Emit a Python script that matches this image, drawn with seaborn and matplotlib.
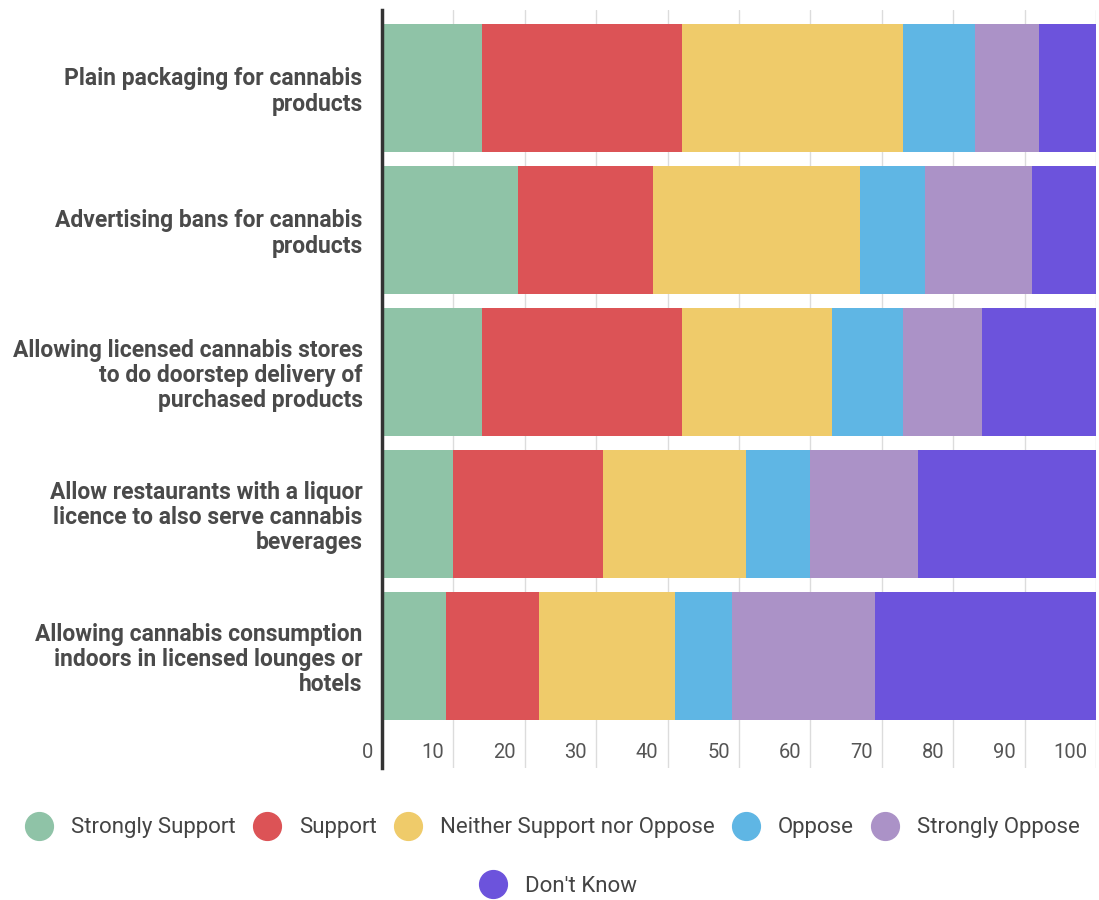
import matplotlib
matplotlib.use("Agg")
import matplotlib.pyplot as plt
import matplotlib.transforms as mtransforms
from matplotlib.lines import Line2D
import numpy as np
import pandas as pd
import seaborn as sns

# Survey questions (top to bottom)
questions = [
    "Plain packaging for cannabis\nproducts",
    "Advertising bans for cannabis\nproducts",
    "Allowing licensed cannabis stores\nto do doorstep delivery of\npurchased products",
    "Allow restaurants with a liquor\nlicence to also serve cannabis\nbeverages",
    "Allowing cannabis consumption\nindoors in licensed lounges or\nhotels",
]

responses = ["Strongly Support", "Support", "Neither Support nor Oppose",
             "Oppose", "Strongly Oppose", "Don't Know"]

strongly_support = [14, 19, 14, 10, 9]
support = [28, 19, 28, 21, 13]
neither = [31, 29, 21, 20, 19]
oppose = [10, 9, 10, 9, 8]
strongly_oppose = [9, 15, 11, 15, 20]
dont_know = [8, 9, 16, 25, 31]

x_ticks = [0, 10, 20, 30, 40, 50, 60, 70, 80, 90, 100]

colors = ["#8fc3a7", "#dc5356", "#efcb6a", "#5fb6e4", "#ab92c7", "#6c53dc"]

sns.set_theme(style="white")
plt.rcParams["font.family"] = ["Roboto", "DejaVu Sans"]

fig = plt.figure(figsize=(10.99, 9.0), dpi=100)
ax = fig.add_axes([0.3476, 1 - 768 / 900, 0.9973 - 0.3476, (768 - 10) / 900])

series = [strongly_support, support, neither, oppose, strongly_oppose, dont_know]
df = pd.DataFrame({name: vals for name, vals in zip(responses, series)}, index=questions)
cum = df.cumsum(axis=1)

# Stacked bars: draw cumulative totals from the outermost segment inwards
for name, color in reversed(list(zip(responses, colors))):
    sns.barplot(x=cum[name].values, y=questions, orient="h", color=color,
                width=0.9, saturation=1, ax=ax, zorder=2, linewidth=0)

ax.set_xlim(0, 100)
ax.set_ylim(4.789, -0.549)
ax.set_xticks(x_ticks)
ax.set_xticklabels([])
ax.tick_params(axis="x", length=0)
ax.xaxis.grid(True, color="#dcdcdc", linewidth=1, zorder=0)
ax.set_axisbelow(True)
ax.tick_params(axis="y", length=0, pad=14, labelsize=16.5, labelcolor="#4a4a4a")
for lab in ax.get_yticklabels():
    lab.set_fontweight("bold")
    lab.set_linespacing(1.12)
ax.set_xlabel("")
ax.set_ylabel("")
for side in ["top", "right", "bottom"]:
    ax.spines[side].set_visible(False)
ax.spines["left"].set_color("#333333")
ax.spines["left"].set_linewidth(2.5)
ax.spines["left"].set_zorder(5)

# Value labels sit just left of each gridline, inside the plot area
offset = mtransforms.ScaledTranslation(-9 / 100, 0, fig.dpi_scale_trans)
trans = mtransforms.blended_transform_factory(ax.transData, ax.transAxes) + offset
for t in x_ticks:
    ax.text(t, 0.02, str(t), transform=trans, ha="right", va="center",
            fontsize=14.5, color="#555555")

def legend_handles(names, cols):
    return [Line2D([0], [0], marker="o", linestyle="none", markersize=20,
                   markerfacecolor=c, markeredgecolor=c, label=n)
            for n, c in zip(names, cols)]

leg1 = fig.legend(handles=legend_handles(responses[:5], colors[:5]),
                  loc="center", bbox_to_anchor=(0.503, 1 - 828 / 900), ncol=5,
                  frameon=False, fontsize=16, handletextpad=0.85,
                  columnspacing=0.8, handlelength=1.2, labelcolor="#444444")
leg2 = fig.legend(handles=legend_handles(responses[5:], colors[5:]),
                  loc="center", bbox_to_anchor=(0.508, 1 - 886 / 900), ncol=1,
                  frameon=False, fontsize=16, handletextpad=0.85,
                  handlelength=1.2, labelcolor="#444444")

fig.savefig("out.png", dpi=100)
